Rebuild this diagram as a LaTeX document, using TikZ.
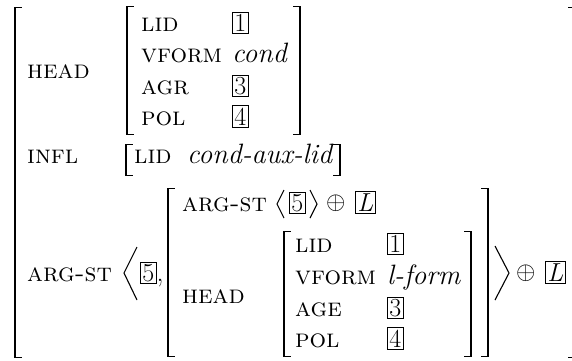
\documentclass[tikz,border=0pt]{standalone}
% square brackets: x, top, bottom (optional: half width of the bar)
\newcommand\avmL[4][1.3]{%
  \fill (#2-#1,#3) rectangle (#2+#1,#4);
  \fill (#2-#1,#3) rectangle (#2+7,#3+1);
  \fill (#2-#1,#4-1) rectangle (#2+7,#4);}
\newcommand\avmR[4][1.3]{%
  \fill (#2-#1,#3) rectangle (#2+#1,#4);
  \fill (#2-7,#3) rectangle (#2+#1,#3+1);
  \fill (#2-7,#4-1) rectangle (#2+#1,#4);}
\begin{document}
\begin{tikzpicture}[x=1pt,y=-1pt,
  every node/.style={inner sep=0pt, anchor=base west, font=\fontsize{28}{32}\selectfont},
  feat/.style={font=\fontsize{26}{30}\selectfont\scshape},
  val/.style={font=\fontsize{28}{32}\selectfont\itshape},
  tag/.style={draw, line width=0.6pt, inner sep=2pt, font=\fontsize{26}{30}\selectfont},
  op/.style={font=\fontsize{28}{32}\selectfont},
  ang/.style={line width=1.1pt, line join=miter}]
\useasboundingbox (0,0) rectangle (572,360);
% outer matrix
\avmL{15}{7}{358}
\avmR{575}{7}{358}
\node[feat] (head) at (27,78) {head};
\node[feat] (infl) at (27,163) {infl};
\node[feat] (argst) at (27,281) {arg-st};
% HEAD value
\avmL{127}{6}{135}
\avmR{300}{6}{135}
\node[feat] (lid) at (141,31) {lid};
\node[tag] (t1) at (232,31) {1};
\node[feat] (vform) at (141,62) {vform};
\node[val] (cond) at (232,62) {cond};
\node[feat] (agr) at (141,94) {agr};
\node[tag] (t3) at (232,94) {3};
\node[feat] (pol) at (141,125) {pol};
\node[tag] (t4) at (232,125) {4};
% INFL value
\avmL[0.7]{126}{144}{176}
\avmR[0.7]{340}{144}{176}
\node[feat] (ilid) at (134,163) {lid};
\node[val] (caux) at (187,163) {cond-aux-lid};
% ARG-ST list
\draw[ang] (137,247) -- (124,273) -- (137,300);
\node[tag] (t5) at (140,281) {5};
\node (comma) at (t5.base east) {,};
\avmL{168}{188}{357}
\avmR{488}{188}{357}
\node[feat] (aargst) at (182,211) {arg-st};
\draw[ang] (284,190) -- (277,204) -- (284,218);
\node[tag] (at5) at (289,211) {5};
\draw[ang] (310,190) -- (317,204) -- (310,218);
\node[op] (aplus) at (326,209) {$\oplus$};
\node[tag] (aL) at (355,211) {\textit{L}};
\node[feat] (ahead) at (182,303) {head};
\avmL{284}{231}{357}
\avmR{471}{231}{357}
\node[feat] (hlid) at (295,252) {lid};
\node[tag] (h1) at (387,252) {1};
\node[feat] (hvform) at (295,284) {vform};
\node[val] (lform) at (387,284) {l-form};
\node[feat] (hage) at (295,316) {age};
\node[tag] (h3) at (387,316) {3};
\node[feat] (hpol) at (295,347) {pol};
\node[tag] (h4) at (387,347) {4};
\draw[ang] (495,246) -- (509,273) -- (495,300);
\node[op] (oplus) at (516,279) {$\oplus$};
\node[tag] (oL) at (545,281) {\textit{L}};
\end{tikzpicture}
\end{document}
